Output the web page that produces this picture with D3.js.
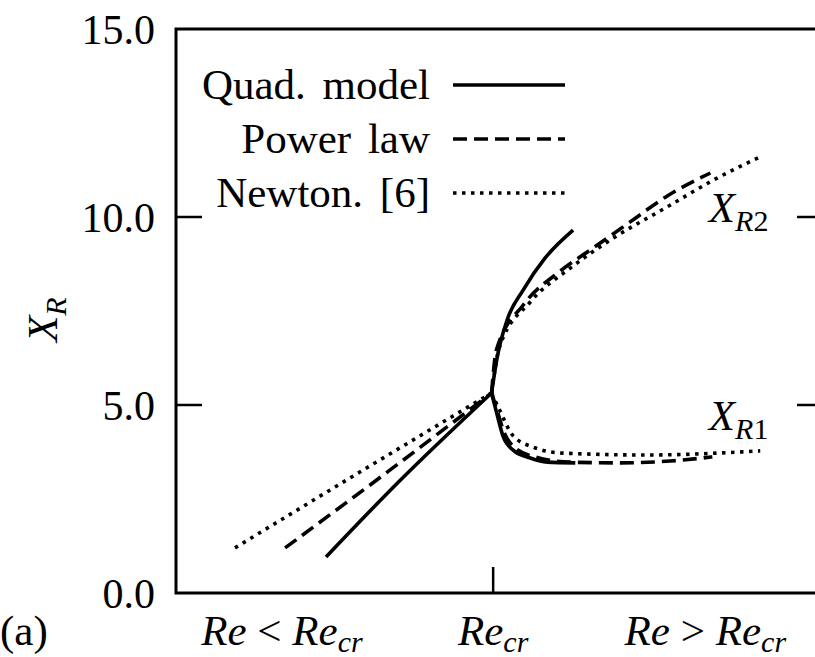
<!DOCTYPE html>
<html lang="en">
  <head>
    <meta charset="utf-8">
    <title>X_R against Re</title>
    <script src="https://d3js.org/d3.v7.min.js"></script>
    <style>
      body { margin: 0; background: #fff; }
    </style>
  </head>
  <body>
    <div id="chart"></div>
    <script type="text/javascript">
      // x is Re in units of Re_cr (Re_cr = 1), y is X_R
      const yTicks = [0, 5, 10, 15];
      const xTickLabels = [
          {at: 0.334, parts: [["Re", "i"], [" < ", "r"], ["Re", "i"], ["cr", "s"]]},
          {at: 1.0, parts: [["Re", "i"], ["cr", "s"]]},
          {at: 1.669, parts: [["Re", "i"], [" > ", "r"], ["Re", "i"], ["cr", "s"]]}
      ];
      const seriesNames = ["Quad. model", "Power law", "Newton. [6]"];

      // Quad. model: branch below Re_cr, upper branch X_R2, lower branch X_R1
      const quadBelow = [[0.473, 0.96], [0.70, 2.94], [0.995, 5.32]];
      const quadR2 = [[0.995, 5.32], [1.013, 6.28], [1.044, 7.26], [1.095, 8.06], [1.164, 8.91], [1.252, 9.65]];
      const quadR1 = [[0.995, 5.32], [1.011, 4.79], [1.032, 4.15], [1.063, 3.80], [1.117, 3.59], [1.170, 3.48], [1.259, 3.46]];

      // Power law
      const powerBelow = [[0.344, 1.20], [0.67, 3.24], [0.995, 5.32]];
      const powerR2 = [[0.995, 5.32], [1.010, 6.46], [1.095, 7.66], [1.211, 8.56], [1.306, 9.12], [1.432, 9.87], [1.549, 10.56], [1.685, 11.17]];
      const powerR1 = [[0.995, 5.32], [1.012, 4.87], [1.035, 4.26], [1.069, 3.86], [1.132, 3.62], [1.243, 3.48], [1.401, 3.46], [1.558, 3.51], [1.691, 3.62]];

      // Newton. [6]
      const newtonBelow = [[0.186, 1.20], [0.59, 3.27], [0.995, 5.32]];
      const newtonR2 = [[0.995, 5.32], [1.020, 6.54], [1.117, 7.74], [1.243, 8.64], [1.379, 9.44], [1.549, 10.27], [1.694, 10.98], [1.842, 11.60]];
      const newtonR1 = [[0.995, 5.32], [1.020, 4.87], [1.063, 4.18], [1.126, 3.88], [1.221, 3.72], [1.486, 3.67], [1.842, 3.78]];

      const branchLabels = [
          {sub: "R2", x: 1.68, y: 9.87},
          {sub: "R1", x: 1.68, y: 4.34}
      ];

      const FONT = "'Liberation Serif', 'Times New Roman', serif";

      function drawChart() {
          let svgWidth = 815,
              svgHeight = 657;

          let margin = { top: 29, right: -8, bottom: 64, left: 176 },
              width = svgWidth - margin.left - margin.right,
              height = svgHeight - margin.top - margin.bottom;

          let root = d3.select("#chart")
              .append("svg")
              .attr("width", svgWidth)
              .attr("height", svgHeight);

          let svg = root.append("g")
              .attr("transform", "translate(" + margin.left + "," + margin.top + ")");

          let x = d3.scaleLinear()
              .domain([0, 2.04])
              .range([0, width]);

          let y = d3.scaleLinear()
              .domain([0, 15])
              .range([height, 0]);

          const tickLen = 26;

          // frame (right edge falls just outside the picture)
          svg.append("rect")
              .attr("x", 0)
              .attr("y", 0)
              .attr("width", width)
              .attr("height", height)
              .attr("fill", "none")
              .attr("stroke", "black")
              .attr("stroke-width", 3);

          // y ticks on both sides, pointing inwards
          let inner = yTicks.filter(d => d > 0 && d < 15);
          svg.selectAll("line.ytickL")
              .data(inner)
              .join("line")
              .attr("class", "ytickL")
              .attr("x1", 0).attr("x2", tickLen)
              .attr("y1", d => y(d)).attr("y2", d => y(d))
              .attr("stroke", "black").attr("stroke-width", 2.5);

          svg.selectAll("line.ytickR")
              .data(inner)
              .join("line")
              .attr("class", "ytickR")
              .attr("x1", width).attr("x2", width - tickLen)
              .attr("y1", d => y(d)).attr("y2", d => y(d))
              .attr("stroke", "black").attr("stroke-width", 2.5);

          svg.selectAll("text.ylab")
              .data(yTicks)
              .join("text")
              .attr("class", "ylab")
              .attr("x", -21)
              .attr("y", d => y(d))
              .attr("dy", "0.35em")
              .attr("text-anchor", "end")
              .style("font-family", FONT)
              .style("font-size", "42px")
              .text(d => d.toFixed(1));

          // single x tick at Re_cr
          svg.append("line")
              .attr("x1", x(1)).attr("x2", x(1))
              .attr("y1", height).attr("y2", height - tickLen)
              .attr("stroke", "black").attr("stroke-width", 2.5);

          let xl = svg.selectAll("text.xlab")
              .data(xTickLabels)
              .join("text")
              .attr("class", "xlab")
              .attr("x", d => x(d.at))
              .attr("y", height + 52)
              .attr("text-anchor", "middle")
              .style("font-family", FONT)
              .style("font-size", "43px");

          xl.each(function(d) {
              let t = d3.select(this);
              let shifted = false;
              d.parts.forEach(p => {
                  let ts = t.append("tspan").text(p[0]);
                  if (p[1] === "s") {
                      ts.style("font-style", "italic").style("font-size", "30px").attr("dy", 7);
                      shifted = true;
                      return;
                  }
                  if (p[1] === "i") ts.style("font-style", "italic");
                  if (shifted) { ts.attr("dy", -7); shifted = false; }
              });
          });

          // y axis title X_R
          let yt = root.append("text")
              .attr("transform", "translate(57,342) rotate(-90)")
              .style("font-family", FONT)
              .style("font-size", "43px");
          yt.append("tspan").style("font-style", "italic").text("X");
          yt.append("tspan").style("font-style", "italic").style("font-size", "30px").attr("dy", 9).text("R");

          root.append("text")
              .attr("x", 0)
              .attr("y", 645)
              .style("font-family", FONT)
              .style("font-size", "43px")
              .text("(a)");

          // curves
          let line = d3.line()
              .x(d => x(d[0]))
              .y(d => y(d[1]))
              .curve(d3.curveMonotoneX);

          const styles = [
              {dash: null, parts: [quadBelow, quadR2, quadR1]},
              {dash: "14,7", parts: [powerBelow, powerR2, powerR1]},
              {dash: "3.5,5.5", parts: [newtonBelow, newtonR2, newtonR1]}
          ];

          styles.forEach(s => {
              svg.selectAll(null)
                  .data(s.parts)
                  .join("path")
                  .attr("d", line)
                  .attr("fill", "none")
                  .attr("stroke", "black")
                  .attr("stroke-width", 3.6)
                  .attr("stroke-dasharray", s.dash);
          });

          // branch labels X_R2, X_R1
          branchLabels.forEach(b => {
              let t = svg.append("text")
                  .attr("x", x(b.x))
                  .attr("y", y(b.y))
                  .style("font-family", FONT)
                  .style("font-size", "43px");
              t.append("tspan").style("font-style", "italic").text("X");
              t.append("tspan").style("font-style", "italic").style("font-size", "30px").attr("dy", 9).text(b.sub[0]);
              t.append("tspan").style("font-size", "30px").text(b.sub[1]);
          });

          // legend
          let legend = svg.selectAll("g.legend")
              .data(seriesNames)
              .join("g")
              .attr("class", "legend")
              .attr("transform", (d, i) => "translate(0," + (56 + i * 54) + ")");

          legend.append("text")
              .attr("x", 254)
              .attr("y", 0)
              .attr("dy", "0.33em")
              .attr("text-anchor", "end")
              .style("font-family", FONT)
              .style("font-size", "43px")
              .style("word-spacing", "6px")
              .text(d => d);

          legend.append("line")
              .attr("x1", 277)
              .attr("x2", 389)
              .attr("y1", 0)
              .attr("y2", 0)
              .attr("stroke", "black")
              .attr("stroke-width", 3.6)
              .attr("stroke-dasharray", (d, i) => styles[i].dash);
      }

      drawChart();
    </script>
  </body>
</html>
